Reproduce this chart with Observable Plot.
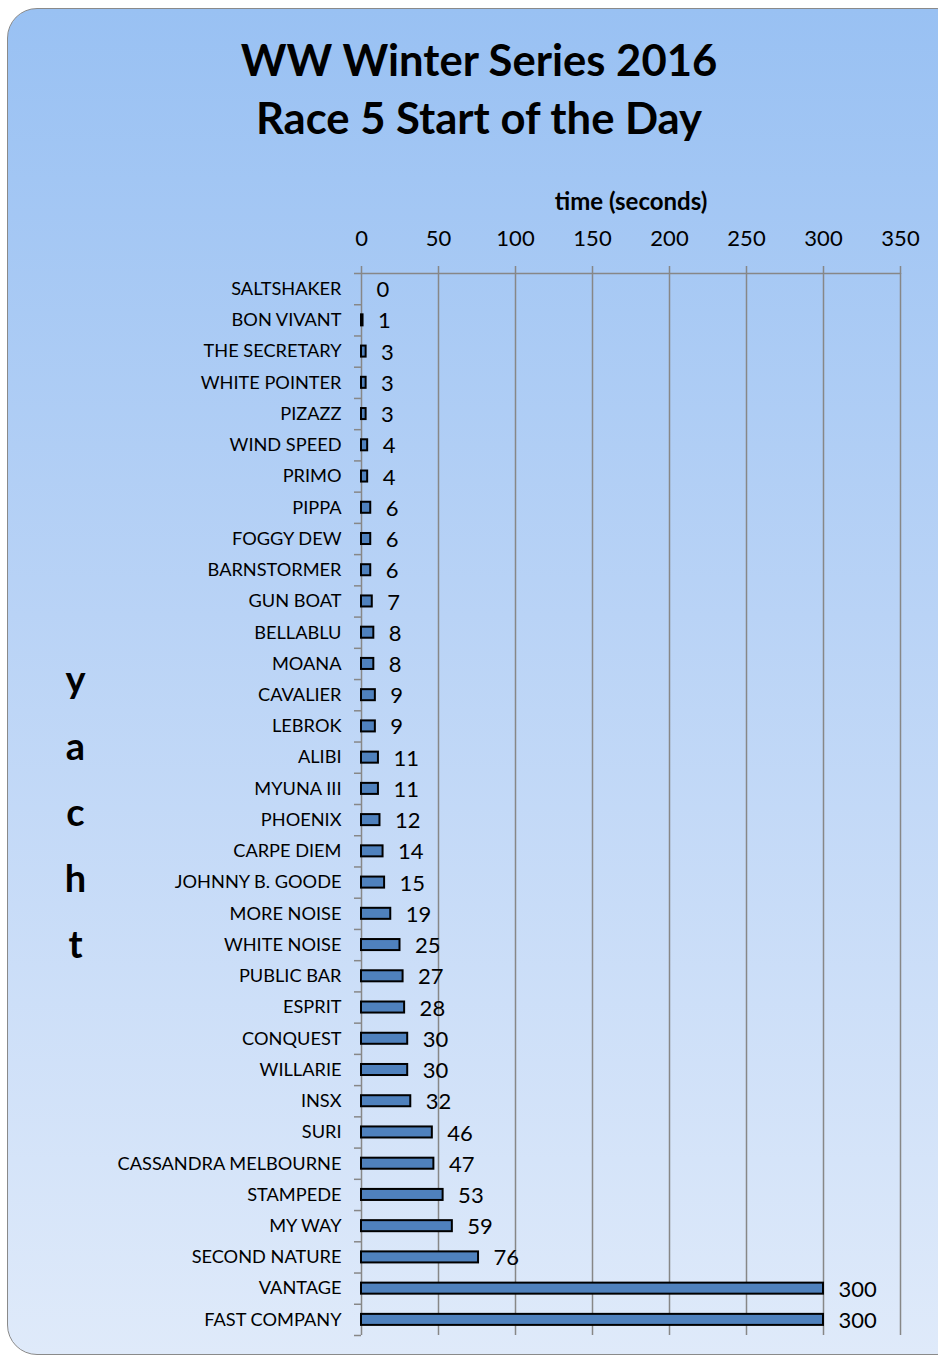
<!DOCTYPE html>
<html>
<head>
<meta charset="utf-8">
<script src="https://cdn.jsdelivr.net/npm/d3@7"></script>
<script src="https://cdn.jsdelivr.net/npm/@observablehq/plot@0.6"></script>
<style>
  html, body { margin: 0; padding: 0; width: 938px; height: 1359px; overflow: hidden; background: #fff; }
  #panel {
    position: absolute; left: 7px; top: 8px; width: 960px; height: 1347px;
    border: 1.5px solid #8a8a8a; border-radius: 30px;
    background: linear-gradient(to bottom, #99c1f3 0%, #b9d3f6 45%, #dfeafa 100%);
    box-sizing: border-box;
  }
  #title {
    position: absolute; left: 0; top: 30px; width: 958px; text-align: center;
    font-family: Lato, sans-serif; font-weight: 700; font-size: 43.6px; line-height: 58px; color: #000;
  }
  #chart { position: absolute; left: 0; top: 160px; }
  #chart svg { display: block; }
</style>
</head>
<body>
<div id="panel"></div>
<div id="title">WW Winter Series 2016<br>Race 5 Start of the Day</div>
<div id="chart"></div>
<script>
// Yachts in finishing order (top to bottom) and their start times in seconds
const yachts = [
  "SALTSHAKER", "BON VIVANT", "THE SECRETARY", "WHITE POINTER", "PIZAZZ",
  "WIND SPEED", "PRIMO", "PIPPA", "FOGGY DEW", "BARNSTORMER",
  "GUN BOAT", "BELLABLU", "MOANA", "CAVALIER", "LEBROK",
  "ALIBI", "MYUNA III", "PHOENIX", "CARPE DIEM", "JOHNNY B. GOODE",
  "MORE NOISE", "WHITE NOISE", "PUBLIC BAR", "ESPRIT", "CONQUEST",
  "WILLARIE", "INSX", "SURI", "CASSANDRA MELBOURNE", "STAMPEDE",
  "MY WAY", "SECOND NATURE", "VANTAGE", "FAST COMPANY"
];
const seconds = [
  0, 1, 3, 3, 3,
  4, 4, 6, 6, 6,
  7, 8, 8, 9, 9,
  11, 11, 12, 14, 15,
  19, 25, 27, 28, 30,
  30, 32, 46, 47, 53,
  59, 76, 300, 300
];
const xTicks = [0, 50, 100, 150, 200, 250, 300, 350];

const data = yachts.map((name, i) => ({name, time: seconds[i]}));

const W = 938, H = 1190;
const mTop = 113, mBottom = 15, mLeft = 361, mRight = 38;
const bw = (H - mTop - mBottom) / yachts.length; // band height per yacht
const gridColor = "#878787";
const font = "Lato, sans-serif";

const chart = Plot.plot({
  width: W,
  height: H,
  marginTop: mTop,
  marginBottom: mBottom,
  marginLeft: mLeft,
  marginRight: mRight,
  style: {background: "transparent", fontFamily: font, color: "#000", overflow: "visible"},
  x: {domain: [0, 350]},
  y: {domain: yachts, padding: 0, round: false},
  marks: [
    // vertical gridlines
    Plot.gridX({ticks: xTicks, stroke: gridColor, strokeOpacity: 1, strokeWidth: 1.5}),
    // top axis line
    Plot.ruleY([yachts[0]], {x1: 0, x2: 350, dy: -bw / 2, stroke: gridColor, strokeWidth: 1.5}),
    // category boundary ticks on the left axis
    Plot.ruleY(yachts, {x1: 0, x2: 0, insetLeft: -7, dy: -bw / 2, stroke: gridColor, strokeWidth: 1.5}),
    Plot.ruleY([yachts[yachts.length - 1]], {x1: 0, x2: 0, insetLeft: -7, dy: bw / 2, stroke: gridColor, strokeWidth: 1.5}),
    // x axis on top
    Plot.axisX({anchor: "top", ticks: xTicks, tickSize: 8, tickPadding: 20, stroke: gridColor, strokeWidth: 1.5,
      fontSize: 22, label: null, tickFormat: d => String(d)}),
    Plot.text(["time (seconds)"], {frameAnchor: "top", dy: -81, fontSize: 24, fontWeight: 700}),
    // y axis labels
    Plot.axisY({tickSize: 0, tickPadding: 20, fontSize: 18.2, label: null}),
    Plot.text(["y\na\nc\nh\nt"], {frameAnchor: "left", textAnchor: "middle", dx: -286, dy: 0,
      fontSize: 38, fontWeight: 700, lineHeight: 1.74}),
    // bars
    Plot.barX(data, {x: "time", y: "name", fill: "#4f81bd", stroke: "#000", strokeWidth: 2,
      insetTop: 10.1, insetBottom: 10.1}),
    // value labels
    Plot.text(data, {x: "time", y: "name", text: d => String(d.time), textAnchor: "start",
      dx: 15, dy: 1, fontSize: 22})
  ]
});
document.getElementById("chart").appendChild(chart);
</script>
</body>
</html>
